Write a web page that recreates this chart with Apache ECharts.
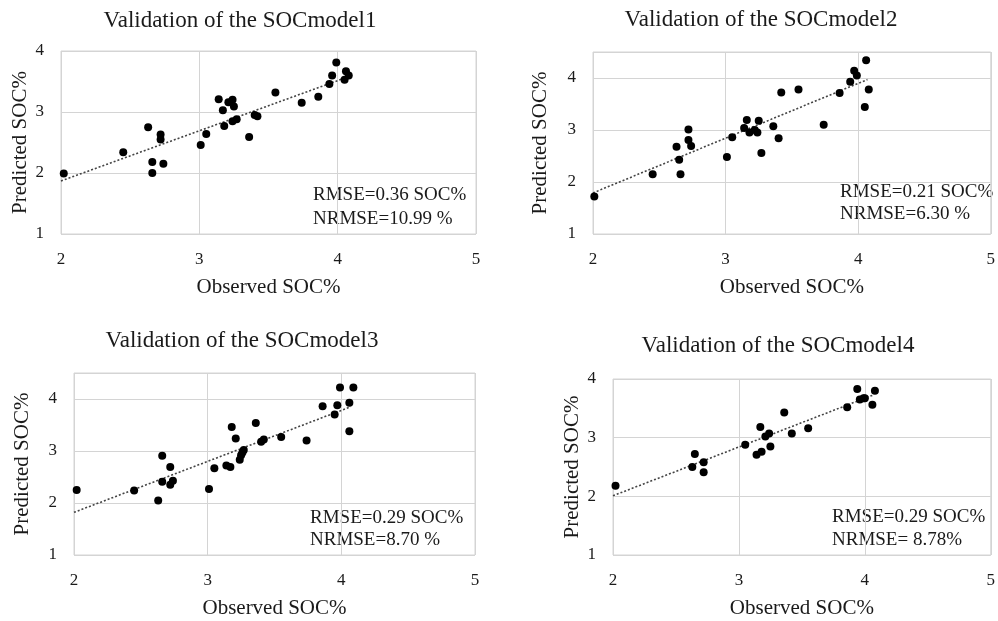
<!DOCTYPE html>
<html>
<head>
<meta charset="utf-8">
<title>SOC model validation</title>
<script src="https://cdn.jsdelivr.net/npm/echarts@6/dist/echarts.min.js"></script>
<style>
  html, body { margin: 0; padding: 0; background: #fff; }
  #main { width: 998px; height: 621px; }
</style>
</head>
<body>
<div id="main"></div>
<script>
// observed / predicted values
var obs1 = [2.02, 2.45, 2.63, 2.72, 2.72, 2.66, 2.66, 2.74, 3.01, 3.05, 3.14, 3.17, 3.18, 3.21, 3.24, 3.25, 3.24, 3.27, 3.36, 3.40, 3.42, 3.55, 3.74, 3.86, 3.94, 3.99, 3.96, 4.06, 4.08, 4.05];
var pred1 = [1.99, 2.34, 2.75, 2.63, 2.55, 2.18, 2.00, 2.15, 2.46, 2.64, 3.21, 3.03, 2.77, 3.16, 3.20, 3.09, 2.85, 2.88, 2.59, 2.95, 2.93, 3.32, 3.15, 3.25, 3.46, 3.81, 3.60, 3.67, 3.60, 3.53];

var obs2 = [2.01, 2.45, 2.63, 2.65, 2.66, 2.72, 2.72, 2.74, 3.01, 3.05, 3.14, 3.16, 3.18, 3.22, 3.24, 3.25, 3.27, 3.36, 3.40, 3.42, 3.55, 3.74, 3.86, 3.94, 3.97, 3.99, 4.06, 4.08, 4.05];
var pred2 = [1.72, 2.15, 2.68, 2.43, 2.15, 3.01, 2.81, 2.69, 2.48, 2.86, 3.04, 3.19, 2.95, 3.00, 2.95, 3.18, 2.56, 3.07, 2.84, 3.72, 3.78, 3.10, 3.71, 3.93, 4.14, 4.05, 4.34, 3.78, 3.44];

var obs3 = [2.02, 2.45, 2.63, 2.66, 2.66, 2.72, 2.72, 2.74, 3.01, 3.05, 3.14, 3.17, 3.18, 3.21, 3.24, 3.25, 3.26, 3.27, 3.36, 3.40, 3.42, 3.55, 3.74, 3.86, 3.95, 3.97, 3.99, 4.06, 4.09, 4.06];
var pred3 = [2.25, 2.24, 2.05, 2.91, 2.41, 2.69, 2.35, 2.43, 2.27, 2.67, 2.72, 2.69, 3.46, 3.24, 2.83, 2.92, 2.97, 3.02, 3.54, 3.18, 3.22, 3.27, 3.20, 3.86, 3.70, 3.88, 4.22, 3.93, 4.22, 3.38];

var obs4 = [2.02, 2.63, 2.65, 2.72, 2.72, 3.05, 3.14, 3.17, 3.18, 3.21, 3.24, 3.25, 3.36, 3.42, 3.55, 3.86, 3.94, 3.96, 3.99, 4.00, 4.06, 4.08];
var pred4 = [2.18, 2.50, 2.72, 2.58, 2.41, 2.88, 2.71, 3.18, 2.76, 3.02, 3.07, 2.85, 3.43, 3.07, 3.16, 3.52, 3.83, 3.65, 3.67, 3.67, 3.56, 3.80];

// dotted trend line end points
var trendX = [[2.0, 4.08], [2.0, 4.07], [2.0, 4.07], [2.0, 4.07]];
var trendY = [[1.87, 3.58], [1.79, 3.97], [1.82, 3.85], [2.01, 3.73]];

var titles = ['Validation of the SOCmodel1', 'Validation of the SOCmodel2', 'Validation of the SOCmodel3', 'Validation of the SOCmodel4'];
var rmseText = ['RMSE=0.36 SOC%', 'RMSE=0.21 SOC%', 'RMSE=0.29 SOC%', 'RMSE=0.29 SOC%'];
var nrmseText = ['NRMSE=10.99 %', 'NRMSE=6.30 %', 'NRMSE=8.70 %', 'NRMSE= 8.78%'];
var yMax = [4, 4.5, 4.5, 4];
var xTicks = [2, 3, 4, 5];
var yTicks = [1, 2, 3, 4];

var obsAll = [obs1, obs2, obs3, obs4];
var predAll = [pred1, pred2, pred3, pred4];

var FONT = '"Liberation Serif", "DejaVu Serif", serif';
var TXT = '#1a1a1a';
var LINE = '#d4d4d4';

// layout of each panel (px)
var grids = [
  { left: 61, top: 51, width: 415, height: 183 },
  { left: 593, top: 52, width: 402, height: 182 },
  { left: 74, top: 373, width: 401, height: 182 },
  { left: 613, top: 379, width: 382, height: 176 }
];
var yNameGap = [30, 42, 41, 30];
var titlePos = [[240, 21], [761, 20], [242, 341], [778, 346]];
var notePos = [[313, 195, 219], [840, 192, 214], [310, 518, 540], [832, 517, 540]];

function pairs(xs, ys) {
  return xs.map(function (x, i) { return [x, ys[i]]; });
}

var chart = echarts.init(document.getElementById('main'));

var xAxes = [], yAxes = [], series = [], graphics = [];
grids.forEach(function (g, i) {
  g.show = true;
  g.borderColor = LINE;
  g.borderWidth = 1;
  g.containLabel = false;

  xAxes.push({
    type: 'value', gridIndex: i, min: 2, max: 5, interval: 1,
    name: 'Observed SOC%', nameLocation: 'middle', nameGap: 43,
    nameTextStyle: { fontFamily: FONT, fontSize: 21, color: TXT },
    axisLine: { show: false }, axisTick: { show: false },
    axisLabel: {
      fontFamily: FONT, fontSize: 17, color: TXT, margin: 17,
      formatter: function (v) { return xTicks.indexOf(v) >= 0 ? String(v) : ''; }
    },
    splitLine: { show: true, lineStyle: { color: LINE, width: 1 } }
  });
  yAxes.push({
    type: 'value', gridIndex: i, min: 1, max: yMax[i], interval: 1,
    name: 'Predicted SOC%', nameLocation: 'middle', nameGap: yNameGap[i],
    nameTextStyle: { fontFamily: FONT, fontSize: 21, color: TXT },
    axisLine: { show: false }, axisTick: { show: false },
    axisLabel: {
      fontFamily: FONT, fontSize: 17, color: TXT, margin: 17,
      formatter: function (v) { return yTicks.indexOf(v) >= 0 ? String(v) : ''; }
    },
    splitLine: { show: true, lineStyle: { color: LINE, width: 1 } }
  });
  series.push({
    type: 'line', xAxisIndex: i, yAxisIndex: i,
    data: pairs(trendX[i], trendY[i]),
    symbol: 'none', silent: true, z: 1,
    lineStyle: { color: '#444', width: 1.6, type: [2, 2] }
  });
  series.push({
    type: 'scatter', xAxisIndex: i, yAxisIndex: i,
    data: pairs(obsAll[i], predAll[i]),
    symbolSize: 8, z: 3,
    itemStyle: { color: '#000', opacity: 1 }
  });

  graphics.push({
    type: 'text', x: titlePos[i][0], y: titlePos[i][1],
    style: { text: titles[i], font: '23px ' + FONT, fill: TXT, align: 'center', verticalAlign: 'middle' }
  });
  graphics.push({
    type: 'text', x: notePos[i][0], y: notePos[i][1],
    style: { text: rmseText[i], font: '19px ' + FONT, fill: TXT, align: 'left', verticalAlign: 'middle' }
  });
  graphics.push({
    type: 'text', x: notePos[i][0], y: notePos[i][2],
    style: { text: nrmseText[i], font: '19px ' + FONT, fill: TXT, align: 'left', verticalAlign: 'middle' }
  });
});

chart.setOption({
  animation: false,
  backgroundColor: '#fff',
  grid: grids,
  xAxis: xAxes,
  yAxis: yAxes,
  series: series,
  graphic: graphics
});

window.addEventListener('resize', function () {
  chart.resize();
});
</script>
</body>
</html>
